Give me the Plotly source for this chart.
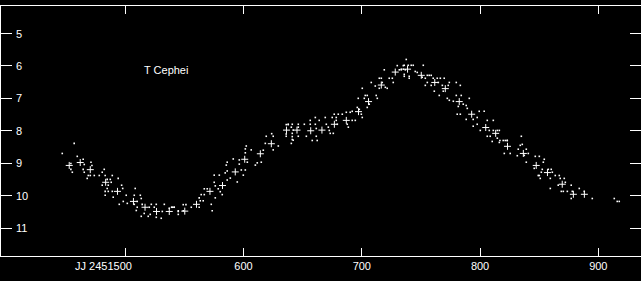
import plotly.graph_objects as go

# Julian date offset (JD - 2451000) and visual magnitude
mean_jd = [452.6, 461.9, 470.4, 483.4, 493.4, 506.9, 516.7, 526.4, 537.2, 550.3,
           560.2, 571.6, 582.2, 593.0, 601.0, 614.2, 623.5, 636.3, 645.2, 656.8,
           666.3, 676.8, 686.9, 697.2, 705.7, 716.5, 728.3, 738.7, 750.3, 761.7,
           770.6, 782.4, 792.9, 804.8, 813.2, 823.2, 836.6, 847.5, 857.0, 869.5,
           878.9, 888.2]
mean_mag = [9.07, 8.98, 9.20, 9.59, 9.87, 10.18, 10.36, 10.49, 10.49, 10.48,
            10.27, 9.87, 9.69, 9.27, 8.88, 8.71, 8.40, 7.98, 7.98, 8.00,
            7.98, 7.80, 7.68, 7.41, 7.10, 6.59, 6.19, 6.10, 6.29, 6.51,
            6.70, 7.10, 7.49, 7.90, 8.08, 8.48, 8.70, 9.07, 9.29, 9.65,
            9.96, 9.96]

obs_jd = [
    456.8, 446.7, 459.4, 464.4, 471.0, 465.3, 471.8, 454.0, 454.0, 455.2,
    464.4, 465.3, 468.7, 470.4, 473.8, 482.2, 480.5, 478.0, 483.0, 489.0,
    467.8, 494.0, 484.7, 487.3, 488.1, 480.5, 485.6, 496.9, 497.8, 484.7,
    483.0, 485.6, 489.0, 483.0, 489.8, 500.8, 507.6, 512.7, 508.4, 498.3,
    501.7, 494.9, 510.1, 513.5, 507.6, 514.3, 510.1, 522.0, 526.2, 520.3,
    524.5, 509.3, 516.0, 521.1, 513.5, 519.4, 531.3, 533.0, 537.2, 539.7,
    541.4, 526.2, 530.4, 544.8, 544.8,
    539.2, 541.2, 544.8, 549.0, 551.3, 549.0, 555.8, 562.5, 563.4, 562.5,
    564.2, 566.8, 565.9, 573.5, 572.7, 566.8, 569.3, 575.2, 576.1, 578.6,
    580.3, 582.0, 576.1, 575.2, 579.5, 584.5, 586.2, 585.4, 586.2, 588.8,
    586.2, 591.3, 596.4, 596.4, 598.1, 599.8, 601.5, 594.7, 601.5, 601.5,
    602.3, 606.5, 603.2, 610.0, 611.6, 615.0, 616.7, 619.2, 623.8, 625.1,
    618.4, 625.1, 629.4, 636.1, 637.8, 640.4, 642.0, 641.2, 642.0, 640.4,
    636.1,
    637.8, 641.2, 636.1, 641.2, 641.2, 646.3, 646.3, 646.3, 651.4, 653.1,
    656.4, 656.4, 658.1, 660.7, 660.7, 661.5, 661.5, 662.3, 664.0, 669.1,
    670.0, 671.7, 672.5, 673.3, 675.0, 676.7, 678.4, 678.4, 680.1, 679.3,
    675.9, 683.5, 686.9, 688.6, 687.7, 690.2, 691.9, 691.9, 694.5, 696.2,
    697.9, 699.6, 700.4, 697.0, 700.4, 702.9, 702.1, 704.6, 706.3, 704.6,
    708.0, 711.4, 712.2, 713.1, 714.8, 716.5, 714.8, 717.3, 719.9, 721.5,
    719.0, 723.2, 725.8, 726.6, 730.0, 731.7, 733.4, 735.1, 736.8, 737.6,
    740.1, 735.9,
    733.4, 735.1, 735.9, 739.3, 741.8, 743.5, 735.9, 740.1, 745.2, 746.9,
    752.0, 751.1, 755.4, 757.0, 758.7, 760.4, 763.8, 766.4, 769.7, 753.7,
    755.4, 753.7, 758.7, 764.7, 768.1, 773.1, 774.0, 779.9, 783.3, 761.3,
    765.5, 768.9, 772.3, 774.0, 777.4, 779.9, 784.1, 781.6, 785.8, 788.3,
    790.9, 789.2, 780.7, 783.3, 788.3, 794.2, 799.3, 797.6, 797.6, 794.2,
    803.5, 806.1, 811.2, 807.8, 811.2, 814.6, 816.3, 806.1, 808.6, 810.3,
    814.6, 816.3, 819.6, 823.0, 820.5, 825.5, 832.3, 831.5, 800.2,
    821.3, 823.0, 816.8, 834.9, 834.0, 835.7, 837.4, 840.8, 839.1, 839.1,
    846.7, 850.1, 854.3, 853.5, 845.8, 852.6, 851.8, 850.1, 849.2, 850.9,
    857.7, 860.2, 861.1, 859.4, 863.6, 867.0, 867.8, 871.2, 872.1, 866.1,
    868.7, 870.4, 873.8, 877.1, 878.0, 883.9, 877.1, 888.1, 859.4, 894.9,
    913.5, 916.0, 917.7,
]
obs_mag = [
    8.39, 8.70, 8.79, 8.88, 8.97, 9.04, 9.07, 9.01, 9.19, 9.28,
    9.19, 9.28, 9.38, 9.38, 9.38, 9.19, 9.28, 9.38, 9.38, 9.38,
    9.47, 9.47, 9.50, 9.50, 9.59, 9.68, 9.68, 9.68, 9.78, 9.78,
    9.87, 9.87, 9.87, 9.99, 10.05, 9.99, 9.99, 9.99, 9.78, 10.18,
    10.24, 10.27, 10.18, 10.09, 10.27, 10.27, 10.36, 10.27, 10.27, 10.36,
    10.36, 10.46, 10.55, 10.58, 10.64, 10.64, 10.49, 10.27, 10.39, 10.36,
    10.36, 10.67, 10.70, 10.49, 10.58,
    10.36, 10.36, 10.47, 10.28, 10.28, 10.47, 10.36, 10.36, 10.16, 10.07,
    9.97, 9.97, 10.16, 10.47, 10.27, 9.79, 9.79, 9.59, 9.70, 9.79,
    9.88, 9.97, 10.07, 9.37, 9.37, 9.30, 9.24, 9.06, 8.97, 9.46,
    9.52, 8.87, 8.90, 9.03, 9.21, 9.37, 9.21, 9.58, 8.56, 8.68,
    8.47, 8.59, 8.97, 9.06, 8.99, 8.97, 8.60, 8.17, 8.09, 8.17,
    8.39, 8.59, 8.47, 7.81, 7.81, 7.89, 7.98, 8.18, 8.29, 8.39,
    8.10,
    7.80, 7.80, 8.17, 8.08, 8.27, 7.80, 7.89, 8.17, 7.80, 8.17,
    7.68, 7.80, 8.30, 7.59, 7.80, 7.93, 8.17, 8.30, 7.68, 7.59,
    7.80, 7.89, 7.99, 8.08, 7.59, 7.49, 7.59, 7.68, 7.49, 7.80,
    8.08, 7.49, 7.43, 7.89, 7.80, 7.43, 7.40, 7.68, 7.68, 7.28,
    7.34, 7.49, 7.59, 7.00, 6.69, 6.91, 7.00, 6.91, 7.18, 7.28,
    6.51, 6.62, 6.91, 7.00, 6.38, 6.38, 6.69, 6.51, 6.66, 6.69,
    6.12, 6.38, 6.38, 6.51, 5.99, 6.12, 6.12, 5.99, 6.12, 5.80,
    6.32, 6.32,
    6.10, 6.10, 5.98, 5.98, 5.98, 5.98, 6.26, 6.38, 6.17, 6.20,
    5.98, 6.35, 6.29, 6.29, 6.29, 6.38, 6.38, 6.38, 6.38, 6.38,
    6.51, 6.60, 6.60, 6.51, 6.60, 6.60, 6.51, 6.51, 6.60, 6.78,
    6.91, 6.78, 7.00, 7.06, 7.09, 6.91, 6.91, 7.25, 7.18, 7.22,
    7.00, 7.31, 7.49, 7.49, 7.65, 7.65, 7.40, 7.59, 7.80, 7.86,
    7.40, 7.68, 7.68, 7.99, 7.99, 7.99, 7.99, 8.17, 8.17, 8.33,
    8.23, 8.36, 8.30, 8.30, 8.70, 8.70, 8.57, 8.77, 7.99,
    8.30, 8.30, 8.30, 8.17, 8.45, 8.42, 8.76, 8.70, 8.57, 8.97,
    8.79, 8.79, 8.88, 8.97, 9.16, 9.19, 9.28, 9.38, 9.38, 9.47,
    9.19, 9.19, 9.28, 9.47, 9.38, 9.38, 9.47, 9.47, 9.59, 9.68,
    9.87, 9.87, 9.87, 9.68, 9.87, 9.78, 10.09, 9.87, 9.78, 10.09,
    10.09, 10.18, 10.18,
]

x_ticks = [500, 600, 700, 800, 900]
x_ticktext = ["", "600", "700", "800", "900"]
first_tick_label = "JJ 2451500"
y_ticks = [5, 6, 7, 8, 9, 10, 11]
star_name = "T Cephei"

FONT = dict(family="Liberation Sans, Arial, sans-serif", size=11, color="white")

fig = go.Figure()
fig.add_trace(go.Scatter(
    x=obs_jd, y=obs_mag, mode="markers",
    marker=dict(symbol="square", size=1.6, color="white", line=dict(width=0)),
    hoverinfo="skip", showlegend=False))
fig.add_trace(go.Scatter(
    x=mean_jd, y=mean_mag, mode="markers",
    marker=dict(symbol="cross-thin", size=5, color="white",
                line=dict(width=1, color="white")),
    showlegend=False))

annotations = [
    dict(x=500, y=0, xref="x", yref="paper", text=first_tick_label,
         showarrow=False, xanchor="right", yanchor="top",
         xshift=9, yshift=-2, font=FONT),
    dict(x=534.8, y=6.11, xref="x", yref="y", text=star_name,
         showarrow=False, xanchor="center", yanchor="middle", font=FONT),
]
# y tick labels drawn inside the frame, to the right of the ticks
for v in y_ticks:
    annotations.append(dict(x=0, y=v, xref="paper", yref="y", text=str(v),
                            showarrow=False, xanchor="left", yanchor="middle",
                            xshift=13, font=FONT))

fig.update_layout(
    width=641, height=281,
    margin=dict(l=1, r=0, t=6, b=25),
    paper_bgcolor="black", plot_bgcolor="black",
    font=FONT,
    xaxis=dict(range=[394.9, 936.1], tickvals=x_ticks, ticktext=x_ticktext,
               ticks="inside", ticklen=8, tickwidth=1, tickcolor="white",
               showline=True, linecolor="white", linewidth=1, mirror="allticks",
               showgrid=False, zeroline=False, tickfont=FONT),
    yaxis=dict(range=[11.864, 4.151], tickvals=y_ticks, showticklabels=False,
               ticks="inside", ticklen=11, tickwidth=1, tickcolor="white",
               showline=True, linecolor="white", linewidth=1, mirror="allticks",
               showgrid=False, zeroline=False),
    annotations=annotations,
)

fig.write_html("out.html")
